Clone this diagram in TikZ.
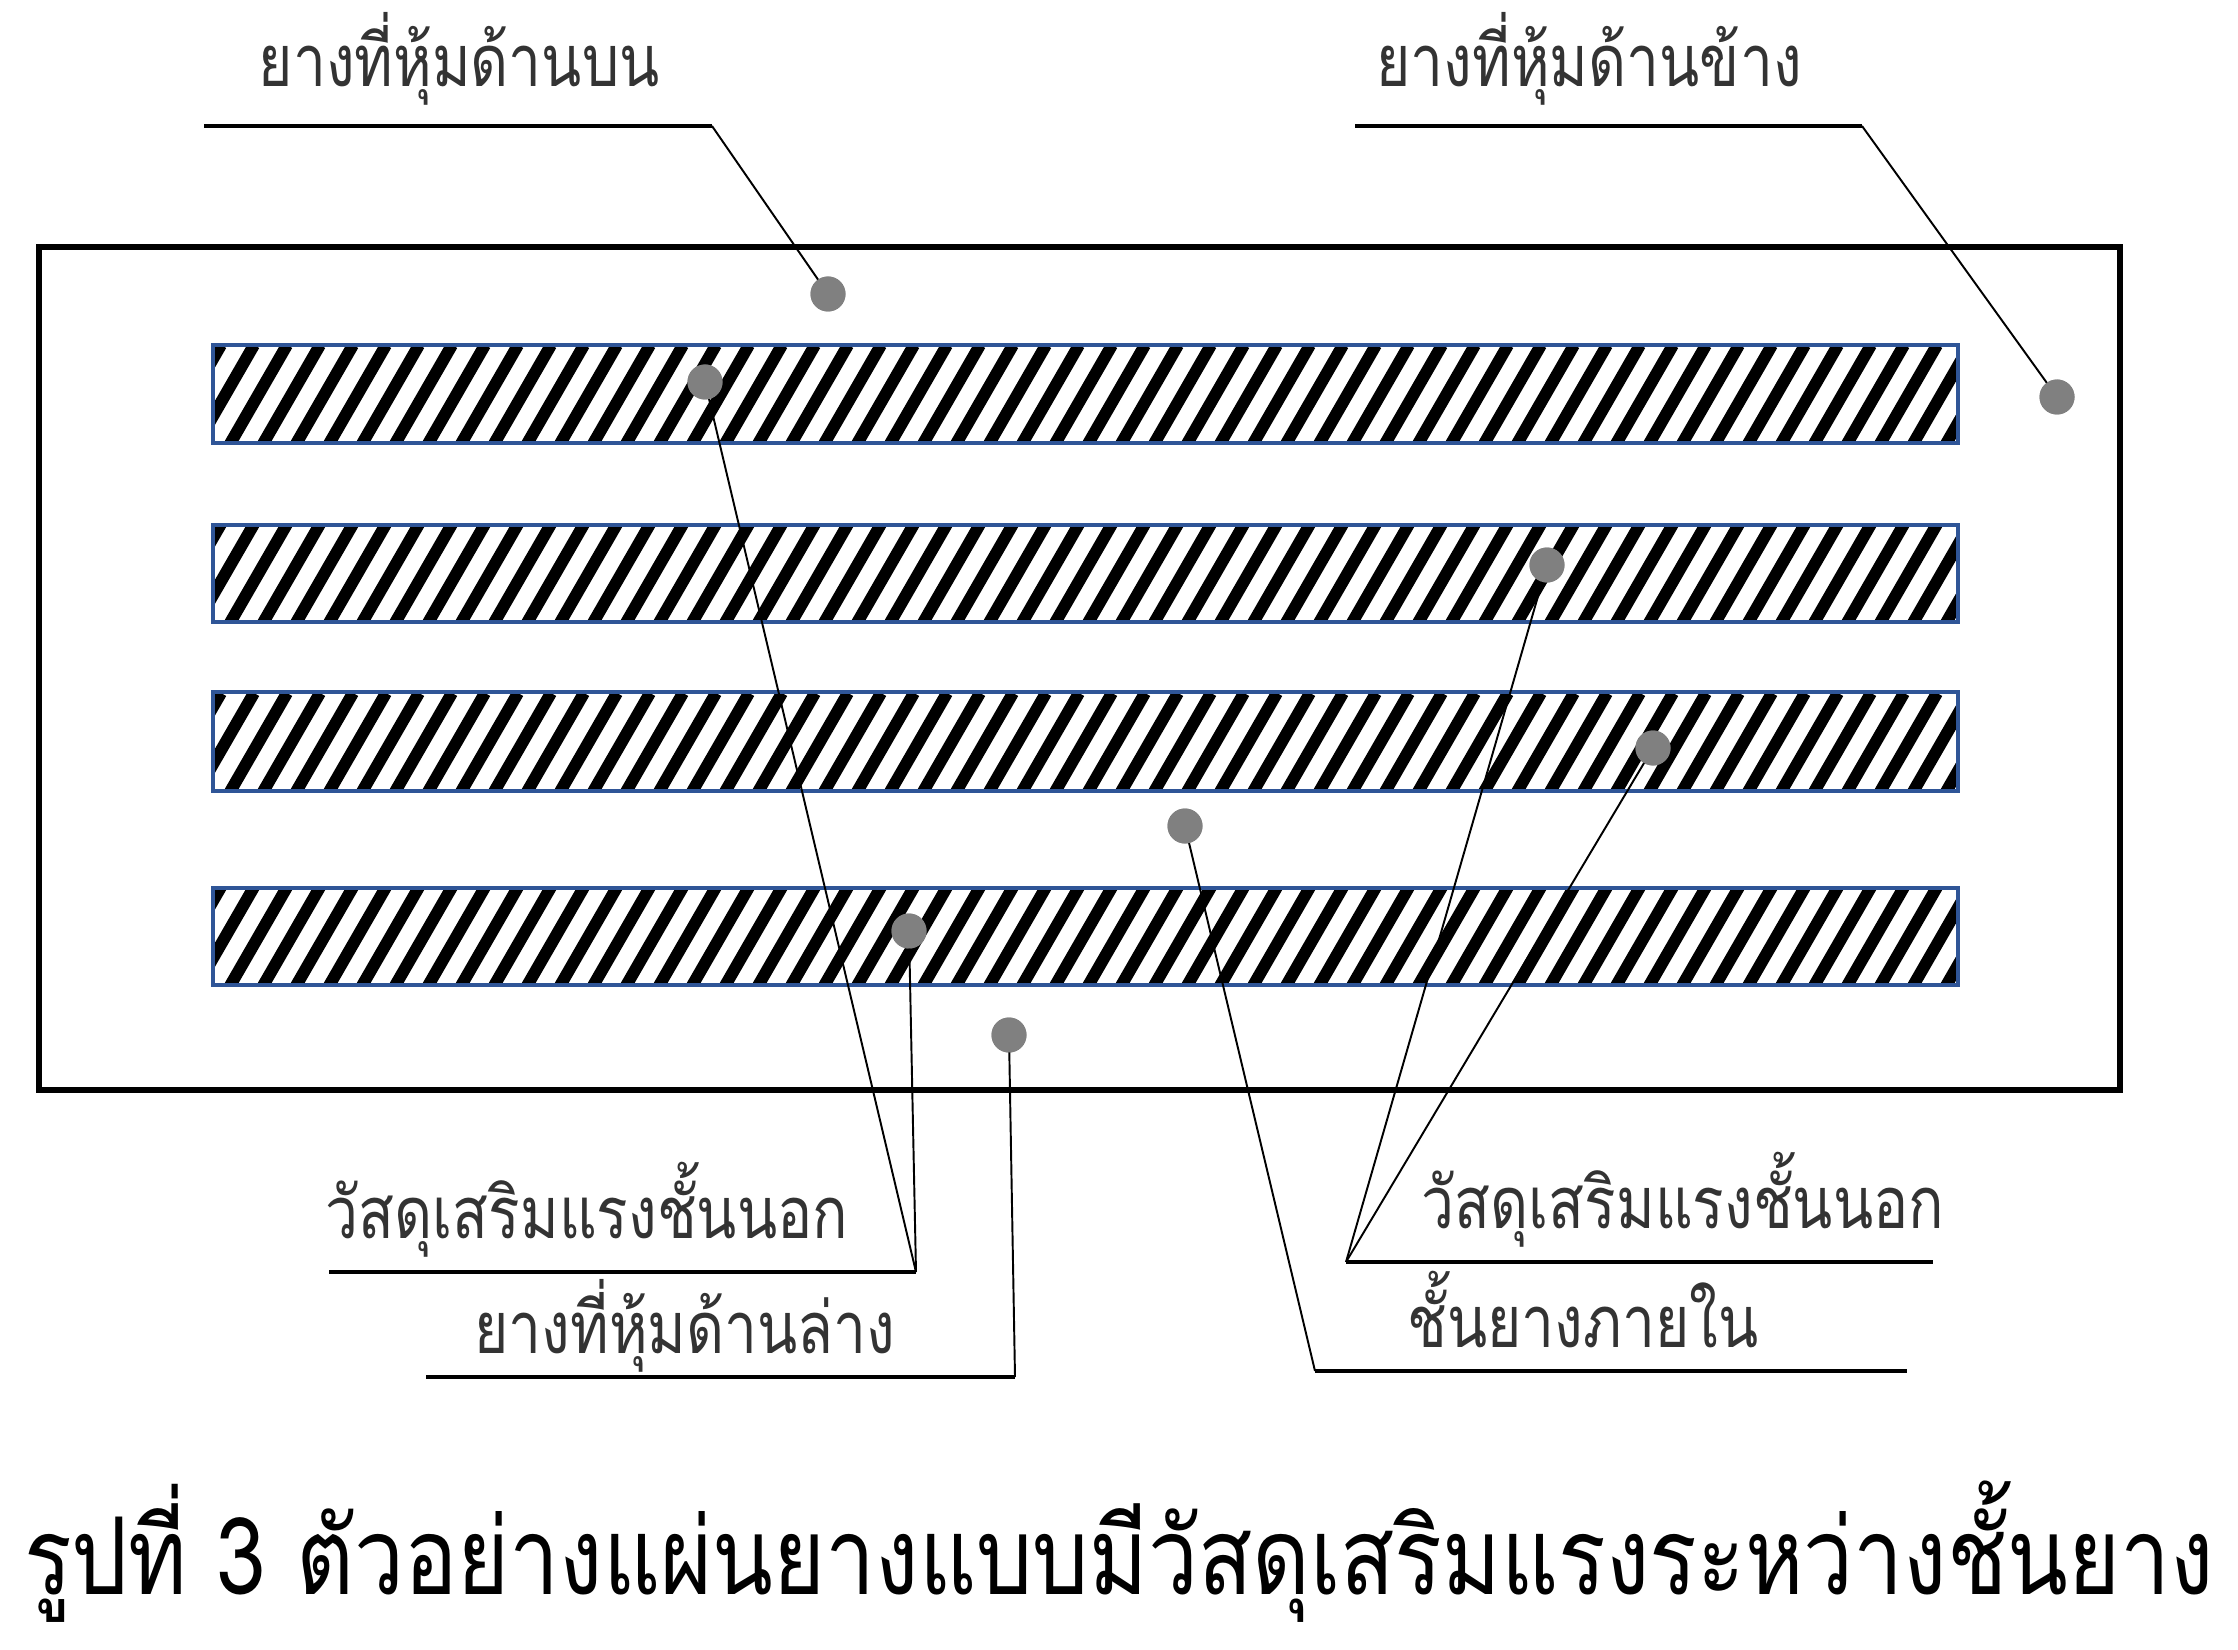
\documentclass[tikz,border=0pt]{standalone}
\usepackage{fontspec}
\newfontfamily\thailabel[Script=Thai,FakeStretch=0.815]{Loma}
\newfontfamily\thaicap[Script=Thai,FakeStretch=0.83]{Loma}
\definecolor{stripblue}{HTML}{2F5597}
\definecolor{dotgray}{HTML}{808080}
\definecolor{labelgray}{HTML}{333333}
\begin{document}
\begin{tikzpicture}[x=0.1mm,y=-0.1mm,
  outerbox/.style={draw=black,line width=1.45pt},
  stripbox/.style={draw=stripblue,line width=1.4pt},
  hatchline/.style={line width=1.2mm,black},
  dotmark/.style={circle,fill=dotgray,inner sep=0pt,minimum size=3.5mm},
  leader/.style={draw=black,line width=0.55pt},
  underline/.style={draw=black,line width=1pt},
  lbl/.style={font=\thailabel\fontsize{20.5}{24}\selectfont,text=labelgray,inner sep=0pt,anchor=base},
  captext/.style={font=\thaicap\fontsize{30.5}{36}\selectfont,text=black,inner sep=0pt,anchor=base}
]
\useasboundingbox (0,0) rectangle (2238,1650);
\fill[white] (0,0) rectangle (2238,1650);

% outer rubber sheet
\draw[outerbox] (39,247) rectangle (2120,1090);

% reinforcement strips with hatching
\foreach \top/\bot in {345/443,525/622,692/791,888/985}{
  \begin{scope}
    \clip (213,\top) rectangle (1958,\bot);
    \foreach \x in {120,153,...,1990}{
      \draw[hatchline] (\x,\bot+20) -- ++(68,-118);
    }
  \end{scope}
  \draw[stripbox] (213,\top) rectangle (1958,\bot);
}

% dots
\node[dotmark] (dtop)   at (828,294)  {};
\node[dotmark] (dside)  at (2057,397) {};
\node[dotmark] (ds1)    at (705,382)  {};
\node[dotmark] (ds2)    at (1547,565) {};
\node[dotmark] (ds3)    at (1653,748) {};
\node[dotmark] (dinner) at (1185,826) {};
\node[dotmark] (ds4)    at (909,931)  {};
\node[dotmark] (dbot)   at (1009,1035) {};

% label texts
\node[lbl] (ltop)   at (459,87)   {ยางที่หุ้มด้านบน};
\node[lbl] (lside)  at (1589,87)  {ยางที่หุ้มด้านข้าง};
\node[lbl] (lout1)  at (587,1238) {วัสดุเสริมแรงชั้นนอก};
\node[lbl] (lbot)   at (685,1353) {ยางที่หุ้มด้านล่าง};
\node[lbl] (lout2)  at (1683,1228) {วัสดุเสริมแรงชั้นนอก};
\node[lbl] (linner) at (1583,1347) {ชั้นยางภายใน};

% underline end points
\coordinate (ut1) at (204,126);   \coordinate (ut2) at (712,126);
\coordinate (us1) at (1355,126);  \coordinate (us2) at (1862,126);
\coordinate (uo1) at (329,1272);  \coordinate (uo2) at (916,1272);
\coordinate (ub1) at (426,1377);  \coordinate (ub2) at (1015,1377);
\coordinate (ur1) at (1346,1262); \coordinate (ur2) at (1933,1262);
\coordinate (ui1) at (1315,1371); \coordinate (ui2) at (1907,1371);

% leaders
\draw[underline] (ut1) -- (ut2);
\draw[leader] (ut2) -- (dtop.center);
\draw[underline] (us1) -- (us2);
\draw[leader] (us2) -- (dside.center);
\draw[underline] (uo1) -- (uo2);
\draw[leader] (uo2) -- (ds1.center);
\draw[leader] (uo2) -- (ds4.center);
\draw[underline] (ub1) -- (ub2);
\draw[leader] (ub2) -- (dbot.center);
\draw[underline] (ur1) -- (ur2);
\draw[leader] (ur1) -- (ds2.center);
\draw[leader] (ur1) -- (ds3.center);
\draw[underline] (ui1) -- (ui2);
\draw[leader] (ui1) -- (dinner.center);

% redraw dots on top
\foreach \d in {dtop,dside,ds1,ds2,ds3,dinner,ds4,dbot}{
  \fill[dotgray] (\d.center) circle[radius=1.75mm];
}

% caption
\node[captext] (caption) at (1119,1594) {รูปที่ 3 ตัวอย่างแผ่นยางแบบมีวัสดุเสริมแรงระหว่างชั้นยาง};
\end{tikzpicture}
\end{document}
